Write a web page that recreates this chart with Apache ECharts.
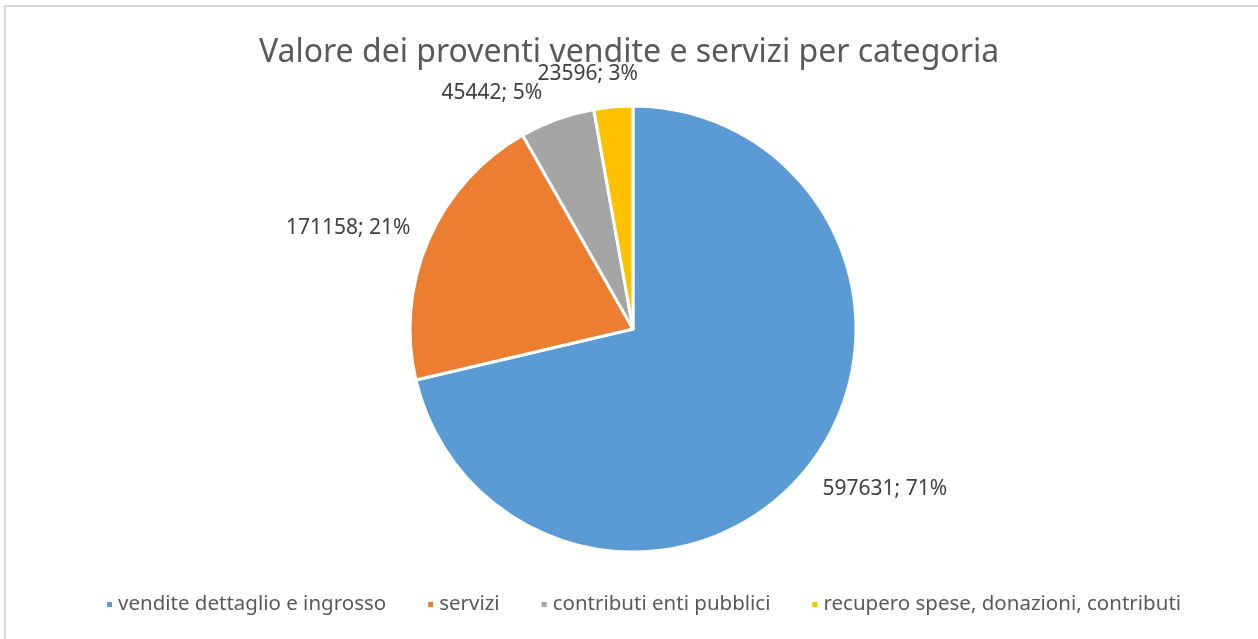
<!DOCTYPE html>
<html>
<head>
<meta charset="utf-8">
<script src="https://cdn.jsdelivr.net/npm/echarts@6/dist/echarts.min.js"></script>
<style>
  html, body { margin: 0; padding: 0; background: #fff; }
  #frame {
    position: absolute; left: 4px; top: 5px; width: 1270px; height: 650px;
    border-left: 2px solid #d9d9d9; border-top: 2px solid #d9d9d9;
  }
  #chart { position: absolute; left: 0; top: 0; width: 1258px; height: 639px; }
</style>
</head>
<body>
<div id="frame"></div>
<div id="chart"></div>
<script>
// dati del grafico
var categories = ["vendite dettaglio e ingrosso", "servizi", "contributi enti pubblici", "recupero spese, donazioni, contributi"];
var values = [597631, 171158, 45442, 23596];
// percentuali come stampate nelle etichette
var labelPercents = [71, 21, 5, 3];
var colors = ["#5B9BD5", "#ED7D31", "#A5A5A5", "#FFC000"];
var titleText = "Valore dei proventi vendite e servizi per categoria";

var pieCenter = [633, 329];
var pieRadius = 223;
var startAngle = 90;
// spostamento angolare delle etichette (gradi), come le ha messe Excel
var labelAngleShift = [6, 4, 11, 5];

var myChart = echarts.init(document.getElementById("chart"));
var pieData = categories.map(function (name, i) {
  return { name: name, value: values[i] };
});

// angolo medio di ogni fetta (gradi, antiorario)
var total = values.reduce(function (a, b) { return a + b; }, 0);
var midAngles = [];
var acc = 0;
values.forEach(function (v) {
  midAngles.push(startAngle - (acc + v / 2) / total * 360);
  acc += v;
});

myChart.setOption({
  animation: false,
  color: colors,
  title: {
    text: titleText,
    left: "center",
    top: 32,
    textStyle: {
      fontFamily: "Noto Sans",
      fontWeight: "normal",
      fontSize: 32,
      color: "#595959"
    }
  },
  legend: {
    bottom: 19,
    left: 100,
    itemWidth: 7,
    itemHeight: 7,
    itemGap: 40,
    icon: "rect",
    textStyle: {
      fontFamily: "Noto Sans",
      fontSize: 20.5,
      color: "#595959"
    },
    data: categories
  },
  series: [
    {
      type: "pie",
      center: pieCenter,
      radius: [0, pieRadius],
      startAngle: startAngle,
      clockwise: true,
      data: pieData,
      itemStyle: {
        borderColor: "#fff",
        borderWidth: 3
      },
      label: {
        show: true,
        position: "outside",
        fontFamily: "Noto Sans",
        fontSize: 21,
        color: "#404040",
        formatter: function (p) {
          return p.value + "; " + labelPercents[p.dataIndex] + "%";
        }
      },
      labelLine: { show: false },
      labelLayout: function (params) {
        var w = params.labelRect.width;
        var h = params.labelRect.height;
        var a = (midAngles[params.dataIndex] + labelAngleShift[params.dataIndex]) * Math.PI / 180;
        var c = Math.cos(a), s = Math.sin(a);
        var ext = Math.abs(c) * w / 2 + Math.abs(s) * h / 2;
        var r = pieRadius + 17 + ext;
        return {
          x: pieCenter[0] + r * c,
          y: pieCenter[1] - r * s,
          align: "center",
          verticalAlign: "middle"
        };
      }
    }
  ]
});
</script>
</body>
</html>
